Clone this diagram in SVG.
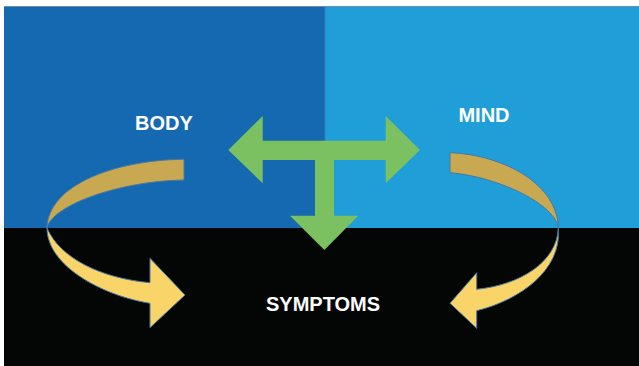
<svg xmlns="http://www.w3.org/2000/svg" width="639" height="366" viewBox="0 0 639 366">
  <style>
    .label { font-family: "Liberation Sans", Arial, sans-serif; font-weight: bold; font-size: 20px; fill: #ffffff; text-anchor: middle; }
    .back { fill: #C8A952; stroke: #4A78A3; stroke-width: 1; stroke-linejoin: round; }
    .front { fill: #F9D468; stroke: #4A78A3; stroke-width: 1; stroke-linejoin: round; }
    .tee { fill: #7BC161; }
  </style>

  <!-- background panels -->
  <rect x="0" y="0" width="639" height="366" fill="#ffffff"/>
  <rect x="4" y="6" width="321" height="222" fill="#1569B0"/>
  <rect x="325" y="6" width="314" height="222" fill="#1F9ED7"/>
  <rect x="4" y="228" width="635" height="138" fill="#030605"/>
  <line x1="4" y1="6.5" x2="639" y2="6.5" stroke="#6F8CA6" stroke-width="1"/>
  <line x1="325" y1="6" x2="325" y2="228" stroke="#3F7FB3" stroke-width="0.8"/>

  <g id="connectors">
    <!-- body to symptoms loop -->
    <g id="loop-body">
      <path class="back" d="M184,159.3 C115,160 48,185 47,228 C52,205 120,181 184,180 Z"/>
      <path class="front" d="M47,228 C60,258 100,278 150,282.7 L150,258.3 L185,295 L150,327.7 L150,303.3 C100,295 47,265 47,228 Z"/>
    </g>
    <!-- mind to symptoms loop -->
    <g id="loop-mind">
      <path class="back" d="M450,152.7 C505,155 558,185 558.3,228.3 C556,205 500,177 450,172.7 Z"/>
      <path class="front" d="M558.3,228.3 C557,262 520,285 476.7,289.3 L476.7,272.7 L450,303.3 L476.7,328.3 L476.7,310.7 C520,300 562,270 558.3,228.3 Z"/>
    </g>
    <!-- three-way arrow between body, mind and symptoms -->
    <g id="tee-arrow">
      <path class="tee" d="M228.3,150 L262.7,116 L262.7,140.7 L385.7,140.7 L385.7,116 L420,150 L385.7,183.3 L385.7,160 L334,160 L334,215.7 L358.3,215.7 L324.3,250 L290,215.7 L315,215.7 L315,160 L262.7,160 L262.7,183.3 Z"/>
    </g>
  </g>

  <g id="node-body">
    <text class="label" x="164" y="130">BODY</text>
  </g>
  <g id="node-mind">
    <text class="label" x="484" y="122.3">MIND</text>
  </g>
  <g id="node-symptoms">
    <text class="label" x="323" y="311">SYMPTOMS</text>
  </g>
</svg>
